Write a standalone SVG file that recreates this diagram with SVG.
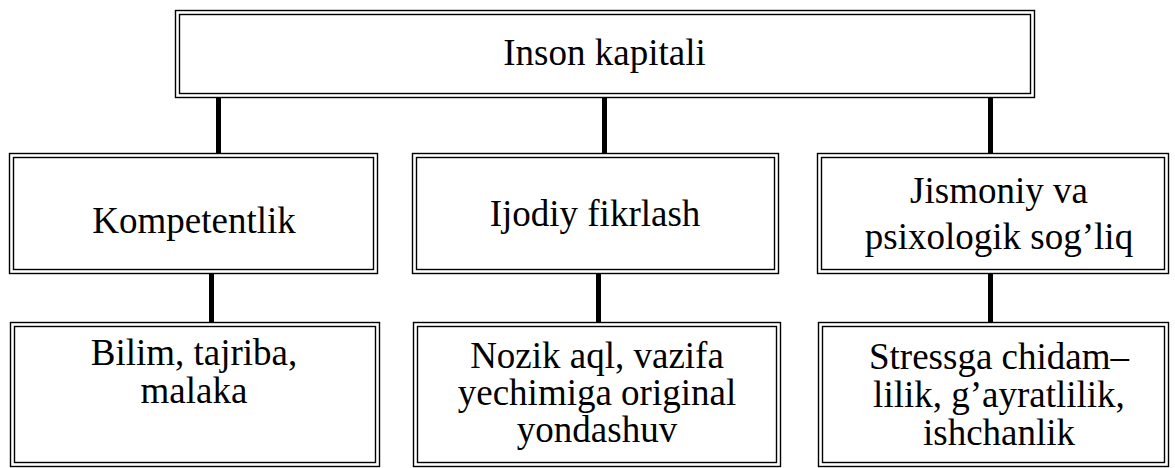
<svg xmlns="http://www.w3.org/2000/svg" width="1175" height="468" viewBox="0 0 1175 468">
  <style>
    .frame { fill: none; stroke: #000; stroke-width: 1.4; }
    .label { font-family: 'Liberation Serif', 'Times New Roman', serif; font-size: 37px; fill: #000; text-anchor: middle; }
    .link { stroke: #000; stroke-width: 5; fill: none; }
  </style>
  <rect width="1175" height="468" fill="#fff"/>

  <!-- connectors -->
  <g id="connectors">
    <line class="link" x1="218.5" y1="97" x2="218.5" y2="153"/>
    <line class="link" x1="604.5" y1="97" x2="604.5" y2="153"/>
    <line class="link" x1="990.5" y1="97" x2="990.5" y2="153"/>
    <line class="link" x1="211.5" y1="274" x2="211.5" y2="322"/>
    <line class="link" x1="598.5" y1="274" x2="598.5" y2="322"/>
    <line class="link" x1="990.5" y1="274" x2="990.5" y2="322"/>
  </g>

  <!-- root -->
  <g id="inson-kapitali">
    <rect class="frame" x="175.5" y="10.5" width="859" height="87" fill="#fff"/>
    <rect class="frame" x="179.5" y="14.5" width="851" height="79"/>
    <text class="label" x="604.5" y="65">Inson kapitali</text>
  </g>

  <!-- second level -->
  <g id="kompetentlik">
    <rect class="frame" x="9.5" y="153.5" width="368" height="120" fill="#fff"/>
    <rect class="frame" x="13.5" y="157.5" width="360" height="112"/>
    <text class="label" x="194" y="233">Kompetentlik</text>
  </g>
  <g id="ijodiy-fikrlash">
    <rect class="frame" x="412.5" y="153.5" width="366" height="120" fill="#fff"/>
    <rect class="frame" x="416.5" y="157.5" width="358" height="112"/>
    <text class="label" x="595" y="226">Ijodiy fikrlash</text>
  </g>
  <g id="jismoniy-psixologik">
    <rect class="frame" x="817.5" y="153.5" width="351" height="120" fill="#fff"/>
    <rect class="frame" x="821.5" y="157.5" width="343" height="112"/>
    <text class="label" x="999" y="203">Jismoniy va</text>
    <text class="label" x="999" y="249">psixologik sog’liq</text>
  </g>

  <!-- third level -->
  <g id="bilim">
    <rect class="frame" x="10.5" y="322.5" width="369" height="144" fill="#fff"/>
    <rect class="frame" x="14.5" y="326.5" width="361" height="136"/>
    <text class="label" x="194" y="365">Bilim, tajriba,</text>
    <text class="label" x="194" y="403">malaka</text>
  </g>
  <g id="nozik-aql">
    <rect class="frame" x="413.5" y="322.5" width="367" height="144" fill="#fff"/>
    <rect class="frame" x="417.5" y="326.5" width="359" height="136"/>
    <text class="label" x="597" y="368">Nozik aql, vazifa</text>
    <text class="label" x="597" y="405">yechimiga original</text>
    <text class="label" x="597" y="442">yondashuv</text>
  </g>
  <g id="stressga-chidamlilik">
    <rect class="frame" x="818.5" y="322.5" width="350" height="144" fill="#fff"/>
    <rect class="frame" x="822.5" y="326.5" width="342" height="136"/>
    <text class="label" x="999" y="369">Stressga chidam–</text>
    <text class="label" x="999" y="407">lilik, g’ayratlilik,</text>
    <text class="label" x="999" y="445">ishchanlik</text>
  </g>
</svg>
